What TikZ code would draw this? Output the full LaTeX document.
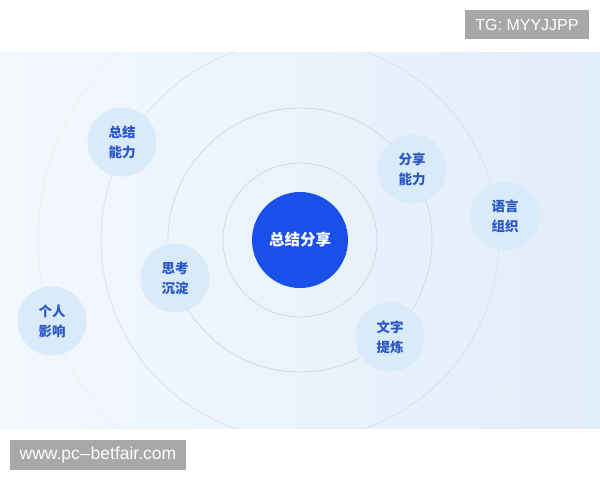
\documentclass[tikz,border=0pt]{standalone}
\usepackage{fontspec}
\setmainfont{Liberation Sans}
\newfontfamily\cjk{Noto Sans CJK SC}
\usepackage{xcolor}
\usepackage{tikz}
\usetikzlibrary{positioning, calc}
\definecolor{hubblue}{HTML}{1A50EA}
\definecolor{skillfill}{HTML}{D9EAF9}
\definecolor{skilltext}{HTML}{2A56C6}
\definecolor{ringgray}{HTML}{D3DAE4}
\definecolor{bgleft}{HTML}{F3F8FD}
\definecolor{bgright}{HTML}{E2EDFA}
\definecolor{markgray}{HTML}{A8A8A8}

\begin{document}
\begin{tikzpicture}[x=1pt, y=-1pt,
    skill/.style={circle, fill=skillfill, minimum size=69pt, inner sep=0pt, align=center,
      text=skilltext, font=\cjk\bfseries\fontsize{13.5}{20}\selectfont},
    ring/.style={draw=ringgray, line width=0.8pt},
    wmark/.style={fill=markgray, text=white, inner sep=0pt, font=\fontsize{16}{18}\selectfont}]
    \useasboundingbox (0, 0) rectangle (600, 480);

    % Background band
    \shade[left color=bgleft, right color=bgright] (0, 52) rectangle (600, 428);

    % Rings
    \coordinate (hubc) at (300, 240);
    \begin{scope}
      \clip (0, 52) rectangle (600, 428);
      \draw[ring, draw=ringgray!45] (hubc) circle (262);
      \draw[ring, draw=ringgray!80] (hubc) circle (199);
      \draw[ring] (hubc) circle (132);
      \draw[ring] (hubc) circle (77);
    \end{scope}

    % Hub
    \node[circle, fill=hubblue, minimum size=96pt, text=white,
      font=\cjk\bfseries\fontsize{15.5}{18}\selectfont] (hub) at (hubc) {总结分享};

    % Skills
    \node[skill] (summary) at (122, 142) {总结\\能力};
    \node[skill] (sharing) at (412, 169) {分享\\能力};
    \node[skill] (language) at (505, 216) {语言\\组织};
    \node[skill] (reflect) at (175, 278) {思考\\沉淀};
    \node[skill] (influence) at (52, 321) {个人\\影响};
    \node[skill] (writing) at (390, 337) {文字\\提炼};

    % Watermarks
    \node[wmark, minimum width=124pt, minimum height=29pt] (tg) at (527, 24.5) {TG: MYYJJPP};
    \node[wmark, minimum width=176pt, minimum height=30pt, font=\fontsize{17.5}{19}\selectfont] (site) at (98, 455) {www.pc{\kern0.5pt–\kern0.5pt}betfair.com};
\end{tikzpicture}
\end{document}
